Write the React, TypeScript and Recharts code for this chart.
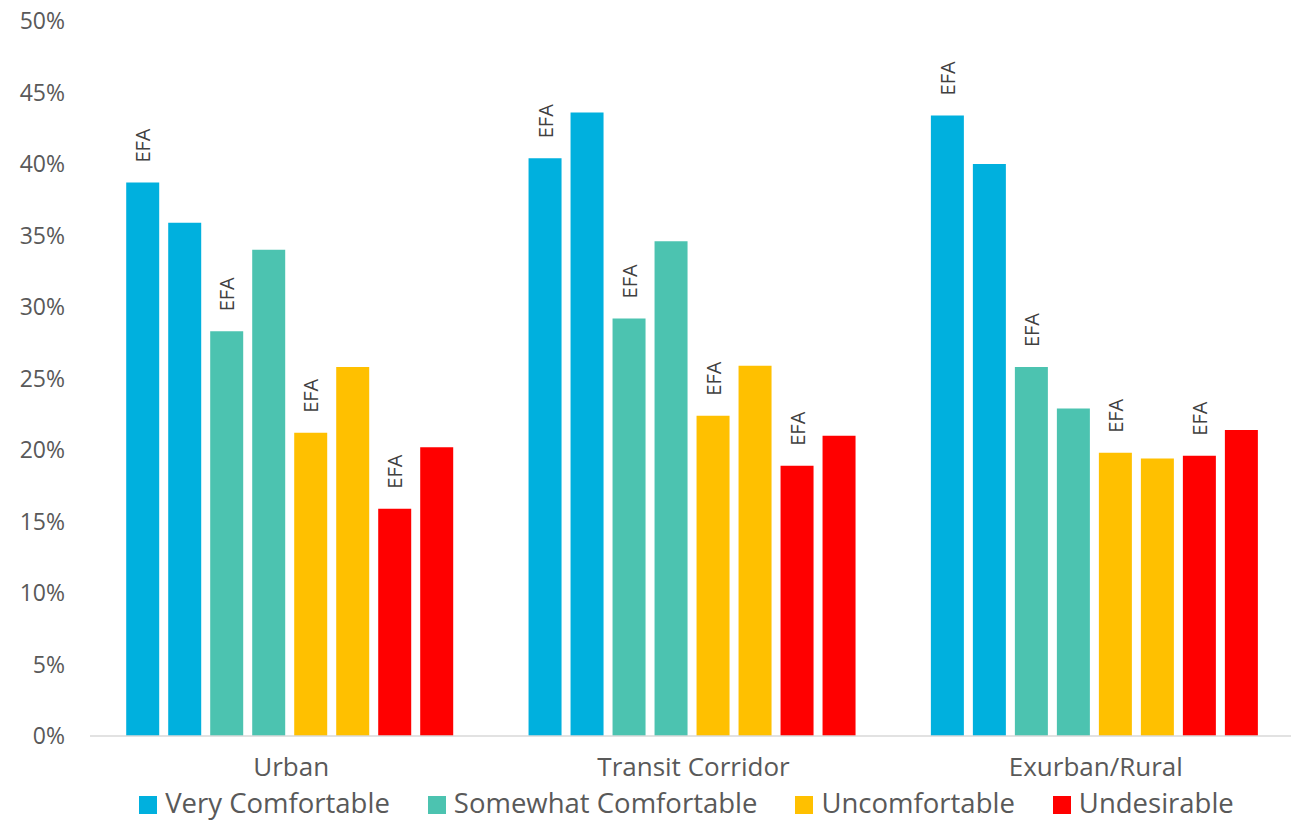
import React from 'react';
import { BarChart, Bar, XAxis, YAxis, Legend, LabelList } from 'recharts';

const categories = ['Urban', 'Transit Corridor', 'Exurban/Rural'];

// each comfort level has an EFA bar followed by the non-EFA bar
const veryComfortableEfa = [38.7, 40.4, 43.4];
const veryComfortable = [35.9, 43.6, 40.0];
const somewhatComfortableEfa = [28.3, 29.2, 25.8];
const somewhatComfortable = [34.0, 34.6, 22.9];
const uncomfortableEfa = [21.2, 22.4, 19.8];
const uncomfortable = [25.8, 25.9, 19.4];
const undesirableEfa = [15.9, 18.9, 19.6];
const undesirable = [20.2, 21.0, 21.4];

const yTicks = [0, 5, 10, 15, 20, 25, 30, 35, 40, 45, 50];

const levelNames = ['Very Comfortable', 'Somewhat Comfortable', 'Uncomfortable', 'Undesirable'];
const levelColors = ['#00B0DE', '#4CC3B0', '#FFC000', '#FF0000'];

const data = categories.map((name, i) => ({
  name,
  vcEfa: veryComfortableEfa[i],
  vc: veryComfortable[i],
  scEfa: somewhatComfortableEfa[i],
  sc: somewhatComfortable[i],
  ucEfa: uncomfortableEfa[i],
  uc: uncomfortable[i],
  udEfa: undesirableEfa[i],
  ud: undesirable[i],
}));

const FONT = '"Open Sans", "Noto Sans", sans-serif';

const EfaLabel = (props: any) => {
  const { x, y, width } = props;
  const cx = x + width / 2;
  const cy = y - 20;
  return (
    <text
      x={cx}
      y={cy}
      transform={`rotate(-90 ${cx} ${cy})`}
      textAnchor="start"
      dominantBaseline="central"
      fontSize={20}
      fontFamily={FONT}
      fill="#404040"
    >
      EFA
    </text>
  );
};

const LegendContent = () => (
  <div style={{ display: 'flex', justifyContent: 'center', alignItems: 'center', height: 34, fontFamily: FONT }}>
    {levelNames.map((name, i) => (
      <div key={name} style={{ display: 'flex', alignItems: 'center', marginRight: i < levelNames.length - 1 ? 38 : 0 }}>
        <span style={{ display: 'inline-block', width: 18, height: 18, background: levelColors[i], marginRight: 8, marginTop: 3 }} />
        <span style={{ fontSize: 27.5, color: '#595959', lineHeight: '34px' }}>{name}</span>
      </div>
    ))}
  </div>
);

export default function App() {
  const pairs = [
    ['vcEfa', 'vc'],
    ['scEfa', 'sc'],
    ['ucEfa', 'uc'],
    ['udEfa', 'ud'],
  ];

  return (
    <div style={{ position: 'absolute', left: 0, top: 0, width: 1291, height: 820, overflow: 'hidden', background: '#fff' }}>
      <BarChart
        width={1299}
        height={820}
        data={data}
        margin={{ top: 21, right: 2, bottom: 0, left: 0 }}
        barCategoryGap="9%"
        barGap={9}
      >
        <XAxis
          dataKey="name"
          height={50}
          tickLine={false}
          tickSize={0}
          tickMargin={22}
          axisLine={{ stroke: '#D9D9D9', strokeWidth: 1.5 }}
          tick={{ fontSize: 26, fill: '#595959', fontFamily: FONT }}
        />
        <YAxis
          width={90}
          domain={[0, 50]}
          ticks={yTicks}
          tickFormatter={(v: number) => `${v}%`}
          axisLine={false}
          tickLine={false}
          tickSize={0}
          tickMargin={25}
          tick={{ fontSize: 23, fill: '#595959', fontFamily: FONT }}
        />
        <Legend
          verticalAlign="bottom"
          height={34}
          content={<LegendContent />}
          wrapperStyle={{ left: 83, width: 1207, height: 34 }}
        />
        {pairs.map(([efaKey, key], i) => [
          <Bar
            key={efaKey}
            dataKey={efaKey}
            name={levelNames[i]}
            fill={levelColors[i]}
            isAnimationActive={false}
          >
            <LabelList dataKey={efaKey} content={<EfaLabel />} />
          </Bar>,
          <Bar
            key={key}
            dataKey={key}
            name={`${levelNames[i]} (non-EFA)`}
            fill={levelColors[i]}
            legendType="none"
            isAnimationActive={false}
          />,
        ])}
      </BarChart>
    </div>
  );
}
